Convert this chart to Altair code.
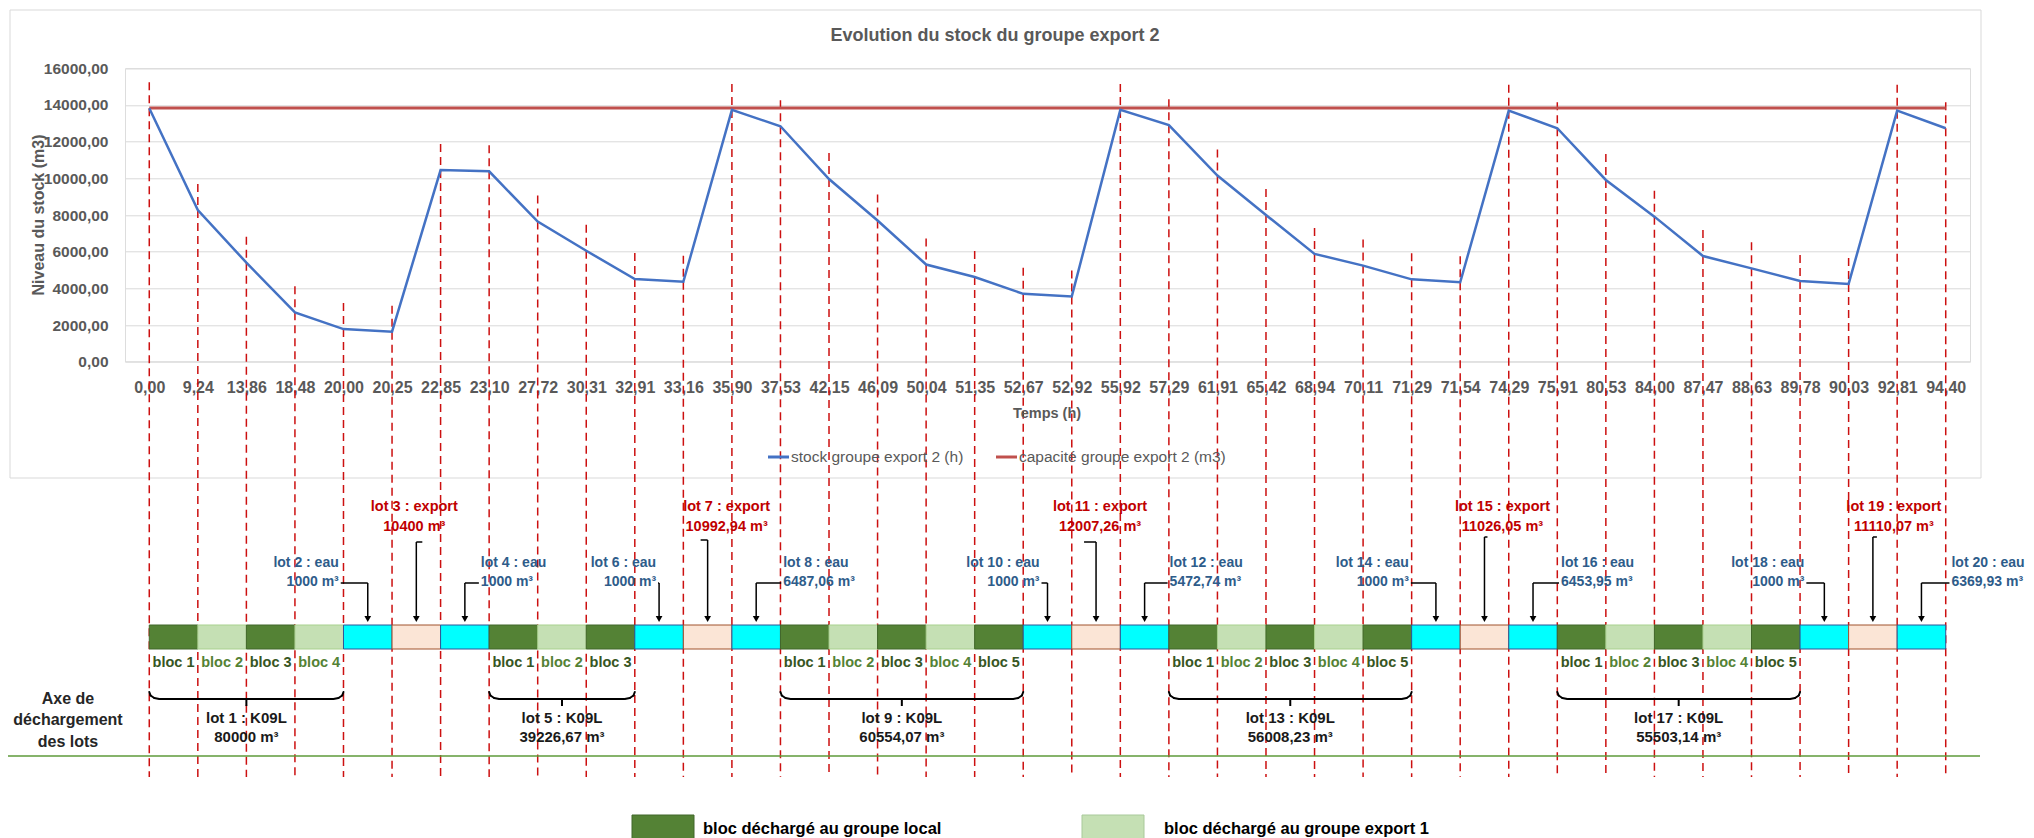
import altair as alt
import pandas as pd

# ---------------- data ----------------
TIME_LABELS = ["0,00", "9,24", "13,86", "18,48", "20,00", "20,25", "22,85", "23,10",
               "27,72", "30,31", "32,91", "33,16", "35,90", "37,53", "42,15", "46,09",
               "50,04", "51,35", "52,67", "52,92", "55,92", "57,29", "61,91", "65,42",
               "68,94", "70,11", "71,29", "71,54", "74,29", "75,91", "80,53", "84,00",
               "87,47", "88,63", "89,78", "90,03", "92,81", "94,40"]
STOCK = [13820, 8270, 5400, 2690, 1780, 1640, 10450, 10380, 7640, 6050, 4510, 4360,
         13730, 12840, 9960, 7700, 5300, 4620, 3700, 3560,
         13730, 12900, 10150, 8000, 5880, 5240, 4490, 4330,
         13690, 12730, 9910, 7910, 5760, 5090, 4400, 4240,
         13690, 12730]
CAPACITY = 13840

BLOCK_KIND = ["local", "export1", "local", "export1", "eau", "export", "eau",
              "local", "export1", "local", "eau", "export", "eau",
              "local", "export1", "local", "export1", "local", "eau", "export", "eau",
              "local", "export1", "local", "export1", "local", "eau", "export", "eau",
              "local", "export1", "local", "export1", "local", "eau", "export", "eau"]
BLOCK_NAME = ["bloc 1", "bloc 2", "bloc 3", "bloc 4", "", "", "",
              "bloc 1", "bloc 2", "bloc 3", "", "", "",
              "bloc 1", "bloc 2", "bloc 3", "bloc 4", "bloc 5", "", "", "",
              "bloc 1", "bloc 2", "bloc 3", "bloc 4", "bloc 5", "", "", "",
              "bloc 1", "bloc 2", "bloc 3", "bloc 4", "bloc 5", "", "", ""]

K09L_LOTS = ["lot 1 : K09L", "lot 5 : K09L", "lot 9 : K09L", "lot 13 : K09L", "lot 17 : K09L"]
K09L_VOLUMES = ["80000 m³", "39226,67 m³", "60554,07 m³", "56008,23 m³", "55503,14 m³"]
K09L_START = [0, 7, 13, 21, 29]
K09L_END = [4, 10, 18, 26, 34]

EAU_LOTS = ["lot 2 : eau", "lot 4 : eau", "lot 6 : eau", "lot 8 : eau", "lot 10 : eau",
            "lot 12 : eau", "lot 14 : eau", "lot 16 : eau", "lot 18 : eau", "lot 20 : eau"]
EAU_VOLUMES = ["1000 m³", "1000 m³", "1000 m³", "6487,06 m³", "1000 m³",
               "5472,74 m³", "1000 m³", "6453,95 m³", "1000 m³", "6369,93 m³"]
EAU_BLOCK = [4, 6, 10, 12, 18, 20, 26, 28, 34, 36]

EXPORT_LOTS = ["lot 3 : export", "lot 7 : export", "lot 11 : export", "lot 15 : export", "lot 19 : export"]
EXPORT_VOLUMES = ["10400 m³", "10992,94 m³", "12007,26 m³", "11026,05 m³", "11110,07 m³"]
EXPORT_BLOCK = [5, 11, 19, 27, 35]

# ---------------- style / layout ----------------
FONT = "Liberation Sans, Arial, sans-serif"
GREY = "#595959"
EAU_BLUE = "#2E5C8A"
EXP_RED = "#C00000"
PLOT_X0, PLOT_Y0 = 125, 68.3
PLOT_W, PLOT_H = 1845, 293.4
SVG_W, SVG_H = 2018, 830
# label placement (pixels, relative to the arrowed block's centre)
EAU_TEXT_SHIFT = [-29, 16, -3, 27, -8, 25, -27, 28, -20, 30]
EXPORT_TEXT_SHIFT = [-2, 19, 4, 18, 21]
EXPORT_STUB = [6, -7, -12, 3, 4]
EXPORT_STUB_Y = [542, 540, 542, 537, 537]


def px(x):
    return x - PLOT_X0


def pv(y):
    return y - PLOT_Y0


N = len(TIME_LABELS)
XS = alt.Scale(domain=[-0.5, N - 0.5], nice=False, zero=False)
YS = alt.Scale(domain=[0, 16000], nice=False, zero=True)
label_expr = "[" + ",".join("'%s'" % s for s in TIME_LABELS) + "][datum.value]"
X_AX = alt.Axis(values=list(range(N)), labelExpr=label_expr, grid=False, domain=False,
                ticks=False, tickSize=0, labelPadding=26, labelFont=FONT, labelFontSize=16,
                labelFontWeight="bold", labelColor=GREY, labelAngle=0, labelOverlap=False,
                labelFlush=False, labelBaseline="middle", title=None)
Y_AX = alt.Axis(values=list(range(0, 16001, 2000)),
                labelExpr="replace(format(datum.value, '.2f'), '.', ',')",
                grid=True, gridColor="#D9D9D9", gridWidth=1, domain=False, ticks=False,
                tickSize=0, labelPadding=17, labelFont=FONT, labelFontSize=15.5,
                labelFontWeight="bold", labelColor=GREY, title=None)


def X(field):
    return alt.X(field + ":Q", scale=XS, axis=X_AX)


def Y(field):
    return alt.Y(field + ":Q", scale=YS, axis=Y_AX)


def label(text, x, y, size, weight="bold", color=GREY, align="center", angle=0):
    return alt.Chart(pd.DataFrame({"t": [text]})).mark_text(
        font=FONT, fontSize=size, fontWeight=weight, color=color, align=align,
        baseline="middle", angle=angle
    ).encode(x=alt.value(px(x)), y=alt.value(pv(y)), text="t:N")


df_main = pd.DataFrame({"idx": list(range(N)), "stock": STOCK})
df_cap = pd.DataFrame({"x0": [0], "x1": [N - 1], "stock": [CAPACITY]})
df_blocks = pd.DataFrame({"start": list(range(N - 1)), "end": list(range(1, N)),
                          "kind": BLOCK_KIND, "name": BLOCK_NAME})
df_blocks["mid"] = df_blocks["start"] + 0.5
df_names = df_blocks[df_blocks["name"] != ""]
df_k = pd.DataFrame({"start": K09L_START, "end": K09L_END, "lot": K09L_LOTS, "vol": K09L_VOLUMES})
df_k["mid"] = (df_k["start"] + df_k["end"]) / 2
df_eau = pd.DataFrame({"block": EAU_BLOCK, "lot": EAU_LOTS, "vol": EAU_VOLUMES})
df_eau["mid"] = df_eau["block"] + 0.5
df_exp = pd.DataFrame({"block": EXPORT_BLOCK, "lot": EXPORT_LOTS, "vol": EXPORT_VOLUMES})
df_exp["mid"] = df_exp["block"] + 0.5
df_arrows = pd.concat([df_eau[["mid"]], df_exp[["mid"]]])

KINDS = ["local", "export1", "eau", "export"]
FILLS = ["#548235", "#C5E0B4", "#00FFFF", "#FBE5D6"]
STROKES = ["#41672A", "#A9D18E", "#2F5597", "#A0522D"]

layers = []

# chart frame
layers.append(alt.Chart(pd.DataFrame({"a": [0]})).mark_rect(
    fillOpacity=0, stroke="#D9D9D9", strokeWidth=1).encode(
    x=alt.value(px(10)), x2=alt.value(px(1981)), y=alt.value(pv(10)), y2=alt.value(pv(478))))

# dashed verticals
layers.append(alt.Chart(df_main).mark_rule(
    color="#CC1010", strokeWidth=1.5, strokeDash=[8, 5], yOffset=-26).encode(
    x=X("idx"), y=Y("stock"), y2=alt.value(pv(777))))

# capacity line
layers.append(alt.Chart(df_cap).mark_rule(color="#C0504D", strokeWidth=3).encode(
    x=X("x0"), x2="x1:Q", y=Y("stock")))

# stock line
layers.append(alt.Chart(df_main).mark_line(color="#4472C4", strokeWidth=2.5).encode(
    x=X("idx"), y=Y("stock")))

# block bar
layers.append(alt.Chart(df_blocks).mark_rect(strokeWidth=1).encode(
    x=X("start"), x2="end:Q", y=alt.value(pv(625)), y2=alt.value(pv(649)),
    fill=alt.Fill("kind:N", scale=alt.Scale(domain=KINDS, range=FILLS), legend=None),
    stroke=alt.Stroke("kind:N", scale=alt.Scale(domain=KINDS, range=STROKES), legend=None)))

# block names
layers.append(alt.Chart(df_names).mark_text(
    font=FONT, fontSize=14.5, fontWeight="bold", baseline="middle").encode(
    x=X("mid"), y=alt.value(pv(663)), text="name:N",
    color=alt.Color("kind:N", scale=alt.Scale(domain=["local", "export1"],
                                              range=["#375623", "#548235"]), legend=None)))

# braces for K09L lots (horizontal part, curled ends, centre nub)
layers.append(alt.Chart(df_k).mark_rule(color="black", strokeWidth=2, xOffset=10, x2Offset=-10).encode(
    x=X("start"), x2="end:Q", y=alt.value(pv(699))))
layers.append(alt.Chart(df_k).mark_rule(color="black", strokeWidth=2).encode(
    x=X("mid"), y=alt.value(pv(699)), y2=alt.value(pv(706))))
CURL = [(0, 692), (1.3, 695.5), (5, 698), (10, 699)]
for (xa, ya), (xb, yb) in zip(CURL[:-1], CURL[1:]):
    layers.append(alt.Chart(df_k).mark_rule(
        color="black", strokeWidth=2, strokeCap="round", xOffset=xa, x2Offset=xb).encode(
        x=X("start"), x2="start:Q", y=alt.value(pv(ya)), y2=alt.value(pv(yb))))
    layers.append(alt.Chart(df_k).mark_rule(
        color="black", strokeWidth=2, strokeCap="round", xOffset=-xa, x2Offset=-xb).encode(
        x=X("end"), x2="end:Q", y=alt.value(pv(ya)), y2=alt.value(pv(yb))))
for fld, yy in (("lot", 718), ("vol", 737)):
    layers.append(alt.Chart(df_k).mark_text(
        font=FONT, fontSize=15, fontWeight="bold", color="#1A1A1A", baseline="middle").encode(
        x=X("mid"), y=alt.value(pv(yy)), text=fld + ":N"))

# eau labels and connectors (one small layer per lot so each keeps its own offset)
for i in range(len(df_eau)):
    row = df_eau.iloc[[i]]
    shift = EAU_TEXT_SHIFT[i]
    align = "left" if shift > 0 else "right"
    for fld, yy in (("lot", 563), ("vol", 582)):
        layers.append(alt.Chart(row).mark_text(
            font=FONT, fontSize=14, fontWeight="bold", color=EAU_BLUE, align=align,
            baseline="middle", dx=shift).encode(x=X("mid"), y=alt.value(pv(yy)), text=fld + ":N"))
    stub_end = shift - 2 if shift > 0 else shift + 2
    layers.append(alt.Chart(row).mark_rule(color="black", strokeWidth=1.5, x2Offset=stub_end).encode(
        x=X("mid"), x2="mid:Q", y=alt.value(pv(583))))
layers.append(alt.Chart(df_eau).mark_rule(color="black", strokeWidth=1.5).encode(
    x=X("mid"), y=alt.value(pv(583)), y2=alt.value(pv(617))))

# export labels and connectors
for i in range(len(df_exp)):
    row = df_exp.iloc[[i]]
    for fld, yy in (("lot", 507), ("vol", 527)):
        layers.append(alt.Chart(row).mark_text(
            font=FONT, fontSize=14.5, fontWeight="bold", color=EXP_RED, align="center",
            baseline="middle", dx=EXPORT_TEXT_SHIFT[i]).encode(
            x=X("mid"), y=alt.value(pv(yy)), text=fld + ":N"))
    layers.append(alt.Chart(row).mark_rule(color="black", strokeWidth=1.5, x2Offset=EXPORT_STUB[i]).encode(
        x=X("mid"), x2="mid:Q", y=alt.value(pv(EXPORT_STUB_Y[i]))))
    layers.append(alt.Chart(row).mark_rule(color="black", strokeWidth=1.5).encode(
        x=X("mid"), y=alt.value(pv(EXPORT_STUB_Y[i])), y2=alt.value(pv(617))))

# arrow heads
layers.append(alt.Chart(df_arrows).mark_point(
    shape="triangle-down", filled=True, size=45, color="black", opacity=1).encode(
    x=X("mid"), y=alt.value(pv(619))))

# green separator line
layers.append(alt.Chart(pd.DataFrame({"a": [0]})).mark_rule(color="#5E9A3A", strokeWidth=1.5).encode(
    x=alt.value(px(8)), x2=alt.value(px(1980)), y=alt.value(pv(756))))

# titles
layers.append(label("Evolution du stock du groupe export 2", 995, 36, 18))
layers.append(label("Temps (h)", 1047, 414, 14.5))
layers.append(label("Niveau du stock (m3)", 39, 215, 16, angle=270))
for txt, yy in (("Axe de", 699), ("déchargement", 720), ("des lots", 742)):
    layers.append(label(txt, 68, yy, 16, color="#262626"))

# top legend
layers.append(alt.Chart(pd.DataFrame({"a": [0]})).mark_rule(color="#4472C4", strokeWidth=3).encode(
    x=alt.value(px(768)), x2=alt.value(px(789)), y=alt.value(pv(457))))
layers.append(label("stock groupe export 2 (h)", 791, 457, 15.5, weight="normal", align="left"))
layers.append(alt.Chart(pd.DataFrame({"a": [0]})).mark_rule(color="#C0504D", strokeWidth=3).encode(
    x=alt.value(px(996)), x2=alt.value(px(1017)), y=alt.value(pv(457))))
layers.append(label("capacité groupe export 2 (m3)", 1019, 457, 15.5, weight="normal", align="left"))

# bottom legend
layers.append(alt.Chart(pd.DataFrame({"a": [0]})).mark_rect(fill="#548235", stroke="#41672A").encode(
    x=alt.value(px(632)), x2=alt.value(px(694)), y=alt.value(pv(815)), y2=alt.value(pv(845))))
layers.append(label("bloc déchargé au groupe local", 703, 829, 16.5, color="black", align="left"))
layers.append(alt.Chart(pd.DataFrame({"a": [0]})).mark_rect(fill="#C5E0B4", stroke="#A9C99A").encode(
    x=alt.value(px(1082)), x2=alt.value(px(1144)), y=alt.value(pv(815)), y2=alt.value(pv(845))))
layers.append(label("bloc déchargé au groupe export 1", 1164, 829, 16.5, color="black", align="left"))

chart = alt.layer(*layers).properties(
    width=PLOT_W, height=PLOT_H,
    padding={"left": PLOT_X0 - 8, "top": PLOT_Y0 - 8,
             "right": SVG_W - (PLOT_X0 - 8) - PLOT_W,
             "bottom": SVG_H - (PLOT_Y0 - 8) - PLOT_H},
    autosize=alt.AutoSizeParams(type="none"),
).configure_view(stroke=None).configure(background="white")

chart.save("out.html", embed_options={"renderer": "svg", "actions": False})
